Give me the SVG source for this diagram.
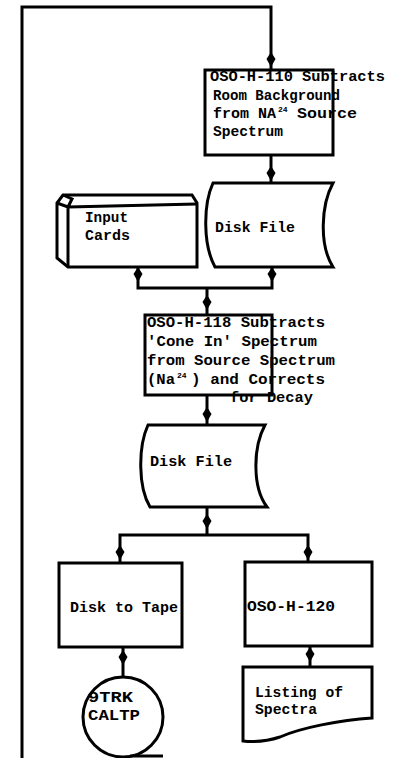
<svg xmlns="http://www.w3.org/2000/svg" xmlns:xlink="http://www.w3.org/1999/xlink" width="395" height="758" viewBox="0 0 395 758">
<style>
.s{fill:#fff;stroke:#000;stroke-width:3;stroke-linejoin:miter}
.c{fill:none;stroke:#000;stroke-width:3}
.t{font-family:"Liberation Mono","DejaVu Sans Mono",monospace;font-size:15px;font-weight:bold;fill:#000}
.sup{font-family:"Liberation Mono","DejaVu Sans Mono",monospace;font-size:8px;font-weight:bold;fill:#000}
</style>
<defs>
<path id="ah" d="M0,-8 L4.5,-1 L0,7 L-4.5,-1 Z" fill="#000"/>
</defs>
<rect width="395" height="758" fill="#fff"/>
<g id="connectors">
<path class="c" d="M22,758 V7 H271 V70"/>
<path class="c" d="M271,155 V183"/>
<path class="c" d="M138,267 V288 M272,267 V288 M136.5,288 H273.5 M207,288 V315"/>
<path class="c" d="M207,395 V425"/>
<path class="c" d="M207,507 V535 M118.5,535 H309.5 M120,535 V562 M308,535 V562"/>
<path class="c" d="M123,647 V677"/>
<path class="c" d="M310,646 V667"/>
<use xlink:href="#ah" x="271" y="60"/>
<use xlink:href="#ah" x="271" y="174"/>
<use xlink:href="#ah" x="138" y="275"/>
<use xlink:href="#ah" x="272" y="275"/>
<use xlink:href="#ah" x="207" y="303"/>
<use xlink:href="#ah" x="207" y="415"/>
<use xlink:href="#ah" x="207" y="522"/>
<use xlink:href="#ah" x="120" y="553"/>
<use xlink:href="#ah" x="308" y="553"/>
<use xlink:href="#ah" x="123" y="658"/>
<use xlink:href="#ah" x="310" y="655"/>
</g>
<g id="oso-h-110">
<rect class="s" x="205" y="70" width="128" height="85"/>
<text class="t" x="210" y="81" textLength="175" lengthAdjust="spacingAndGlyphs">OSO-H-110 Subtracts</text>
<text class="t" x="213" y="100" textLength="127" lengthAdjust="spacingAndGlyphs">Room Background</text>
<text class="t" x="213" y="118">from NA</text>
<text class="sup" x="278" y="112">24</text>
<text class="t" x="297" y="118" textLength="60" lengthAdjust="spacingAndGlyphs">Source</text>
<text class="t" x="213" y="136" textLength="70" lengthAdjust="spacingAndGlyphs">Spectrum</text>
</g>
<g id="disk-file-1">
<path class="s" d="M213,183 H333 C321,205 319,245 333,267 H215 C203,245 203,205 213,183 Z"/>
<text class="t" x="215" y="232" textLength="80" lengthAdjust="spacingAndGlyphs">Disk File</text>
</g>
<g id="input-cards">
<path class="s" d="M57,203 L63,195 L192,195 L197,203 L197,267 L68,267 L57,258 Z"/>
<path class="c" d="M57,203 L68,207 L197,204 M68,207 V267 M63,195 L72,199 L68,207"/>
<text class="t" x="85" y="222" textLength="43" lengthAdjust="spacingAndGlyphs">Input</text>
<text class="t" x="85" y="240" textLength="45" lengthAdjust="spacingAndGlyphs">Cards</text>
</g>
<g id="oso-h-118">
<rect class="s" x="145" y="315" width="127" height="80"/>
<text class="t" x="147" y="327" textLength="178" lengthAdjust="spacingAndGlyphs">OSO-H-118 Subtracts</text>
<text class="t" x="147" y="346" textLength="170" lengthAdjust="spacingAndGlyphs">'Cone In' Spectrum</text>
<text class="t" x="147" y="365" textLength="188" lengthAdjust="spacingAndGlyphs">from Source Spectrum</text>
<text class="t" x="147" y="384" textLength="28" lengthAdjust="spacingAndGlyphs">(Na</text>
<text class="sup" x="177" y="378">24</text>
<text class="t" x="191" y="384" textLength="134" lengthAdjust="spacingAndGlyphs">) and Corrects</text>
<text class="t" x="230" y="402" textLength="83" lengthAdjust="spacingAndGlyphs">for Decay</text>
</g>
<g id="disk-file-2">
<path class="s" d="M148,425 H265 C253,447 252,487 267,507 H150 C138,487 138,447 148,425 Z"/>
<text class="t" x="150" y="466" textLength="82" lengthAdjust="spacingAndGlyphs">Disk File</text>
</g>
<g id="disk-to-tape">
<rect class="s" x="59" y="563" width="123" height="84"/>
<text class="t" x="70" y="612" textLength="108" lengthAdjust="spacingAndGlyphs">Disk to Tape</text>
</g>
<g id="oso-h-120">
<rect class="s" x="245" y="562" width="127" height="84"/>
<text class="t" x="247" y="611" textLength="88" lengthAdjust="spacingAndGlyphs">OSO-H-120</text>
</g>
<g id="tape">
<circle class="s" cx="123" cy="717" r="40"/>
<path class="c" d="M130,756 H163"/>
<text class="t" x="88" y="702" textLength="45" lengthAdjust="spacingAndGlyphs">9TRK</text>
<text class="t" x="88" y="720" textLength="52" lengthAdjust="spacingAndGlyphs">CALTP</text>
</g>
<g id="listing">
<path class="s" d="M243,667 H372 V718 C340,720 300,728 280,737 C265,742 252,742 243,741 Z"/>
<text class="t" x="255" y="697" textLength="88" lengthAdjust="spacingAndGlyphs">Listing of</text>
<text class="t" x="255" y="714" textLength="62" lengthAdjust="spacingAndGlyphs">Spectra</text>
</g>
</svg>
